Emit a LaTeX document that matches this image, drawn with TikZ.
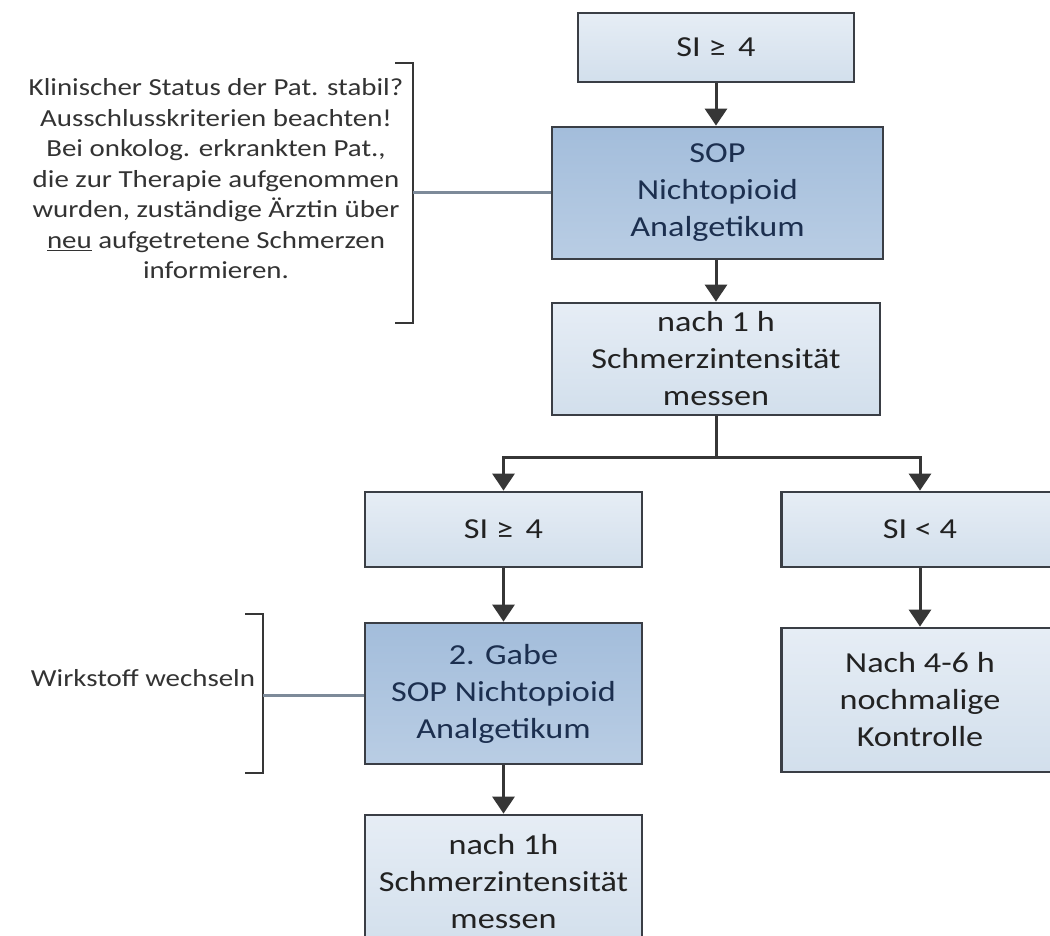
\documentclass[tikz,border=0pt]{standalone}
\usepackage{fontspec}
\setmainfont[FakeStretch=1.18]{Carlito}
\usetikzlibrary{arrows.meta,shadings}
\definecolor{boxline}{HTML}{3A3E45}
\definecolor{lightTop}{HTML}{E6EDF5}
\definecolor{lightBot}{HTML}{D2DFEC}
\definecolor{darkTop}{HTML}{A3BDDB}
\definecolor{darkBot}{HTML}{B9CDE4}
\definecolor{darktext}{HTML}{1C2F4F}
\definecolor{lighttext}{HTML}{222222}
\definecolor{arrowc}{HTML}{363636}
\definecolor{linkc}{HTML}{7D8A99}
\definecolor{notetext}{HTML}{333333}
\begin{document}
\begin{tikzpicture}[x=1pt,y=-1pt,
  basebox/.style={draw=boxline, line width=2.8pt, align=center, inner sep=0pt,
    font=\fontsize{29pt}{37pt}\selectfont},
  lightbox/.style={basebox, top color=lightTop, bottom color=lightBot, text=lighttext},
  darkbox/.style={basebox, top color=darkTop, bottom color=darkBot, text=darktext},
  arr/.style={draw=arrowc, line width=3pt, -{Triangle[width=22pt,length=17pt]}},
  conn/.style={draw=arrowc, line width=3pt},
  link/.style={draw=linkc, line width=3pt},
  bracketline/.style={draw=arrowc, line width=2.6pt},
  note/.style={align=center, inner sep=0pt, text=notetext,
    font=\fontsize{24.5pt}{30.5pt}\selectfont}
]
\useasboundingbox (0,0) rectangle (1050,936);
\fill[white] (0,0) rectangle (1050,936);
\clip (0,0) rectangle (1050,936);

% main column
\node[lightbox, minimum width=276pt, minimum height=69pt] (a) at (716,47.5) {SI ≥\, 4};
\node[darkbox, minimum width=331pt, minimum height=132pt] (b) at (717.5,193) {SOP\\Nichtopioid\\Analgetikum};
\node[lightbox, minimum width=328pt, minimum height=112pt] (c) at (716,359) {nach 1 h\\Schmerzintensität\\messen};

% second row
\node[lightbox, minimum width=277pt, minimum height=75pt] (d) at (503.5,529.5) {SI ≥\, 4};
\node[lightbox, minimum width=277pt, minimum height=75pt] (e) at (920,529.5) {SI < 4};
\node[darkbox, minimum width=277pt, minimum height=141pt] (f) at (503.5,693.5) {2. Gabe\\SOP Nichtopioid\\Analgetikum};
\node[lightbox, minimum width=277pt, minimum height=144pt] (g) at (920,700) {Nach 4-6 h\\nochmalige\\Kontrolle};
\node[lightbox, minimum width=277pt, minimum height=134pt] (h) at (503.5,882) {nach 1h\\Schmerzintensität\\messen};

% notes
\node[note] (n1) at (216,179) {Klinischer Status der Pat. stabil?\\Ausschlusskriterien beachten!\\Bei onkolog. erkrankten Pat.,\\die zur Therapie aufgenommen\\wurden, zuständige Ärztin über\\\underline{neu} aufgetretene Schmerzen\\informieren.};
\node[note] (n2) at (143,678) {Wirkstoff wechseln};

% brackets
\coordinate (br1) at (413,193);
\draw[bracketline] (395,63) -- (413,63) -- (413,323) -- (395,323);
\coordinate (br2) at (263,695);
\draw[bracketline] (245,614) -- (263,614) -- (263,773) -- (245,773);
\draw[link] (br1) -- (b.west);
\draw[link] (br2) -- (f.west |- br2);

% arrows
\draw[arr] (a.south) -- (a.south |- b.north);
\draw[arr] (c.north |- b.south) -- (c.north);
\coordinate (j) at (716,457);
\draw[conn] (c.south) -- (j);
\draw[arr] (j) -| (d.north);
\draw[arr] (j) -| (e.north);
\draw[arr] (d.south) -- (f.north);
\draw[arr] (e.south) -- (g.north);
\draw[arr] (f.south) -- (h.north);
\end{tikzpicture}
\end{document}
